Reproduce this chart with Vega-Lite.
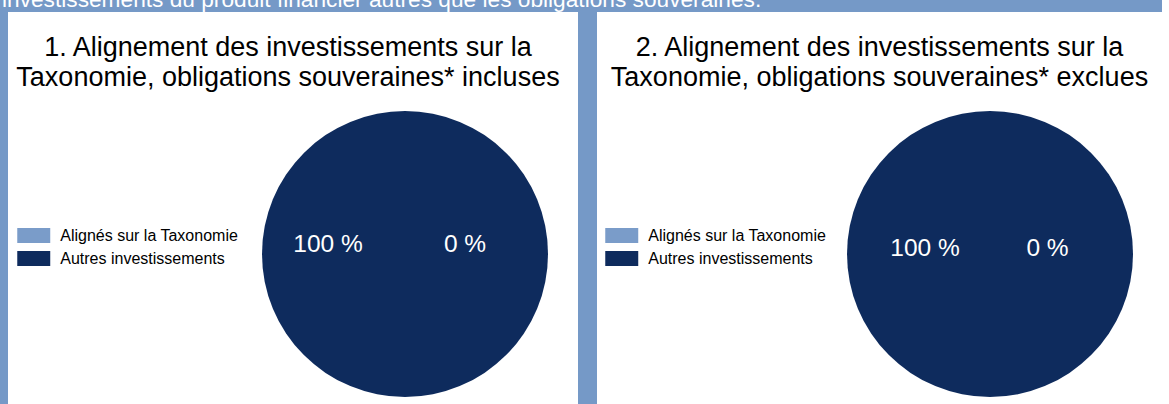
{
  "$schema": "https://vega.github.io/schema/vega-lite/v6.json",
  "background": "#7599C7",
  "padding": {"left": 2, "top": -11, "right": 0, "bottom": 0},
  "title": {
    "text": "investissements du produit financier autres que les obligations souveraines.",
    "anchor": "start",
    "color": "white",
    "fontSize": 22.7,
    "font": "Liberation Sans",
    "fontWeight": "normal",
    "offset": 0,
    "dx": -6
  },
  "data": {
    "values": [
      {"graphique": 1, "categorie": "Alignés sur la Taxonomie", "valeur": 0},
      {"graphique": 1, "categorie": "Autres investissements", "valeur": 1},
      {"graphique": 2, "categorie": "Alignés sur la Taxonomie", "valeur": 0},
      {"graphique": 2, "categorie": "Autres investissements", "valeur": 1}
    ]
  },
  "spacing": 19,
  "hconcat": [
    {
      "width": 570,
      "height": 400,
      "title": {
        "text": ["1. Alignement des investissements sur la", "Taxonomie, obligations souveraines* incluses"],
        "fontSize": 27,
        "fontWeight": "normal",
        "font": "Liberation Sans",
        "color": "black",
        "anchor": "middle",
        "lineHeight": 30,
        "offset": -80,
        "dx": -5
      },
      "transform": [{"filter": "datum.graphique == 1"}],
      "layer": [
        {
          "mark": {"type": "arc", "outerRadius": 143},
          "encoding": {
            "x": {"datum": 0.6965, "type": "quantitative", "scale": {"domain": [0, 1], "nice": false, "zero": false}, "axis": null},
            "y": {"datum": 0.395, "type": "quantitative", "scale": {"domain": [0, 1], "nice": false, "zero": false}, "axis": null},
            "theta": {"field": "valeur", "type": "quantitative", "stack": true},
            "order": {"field": "categorie", "sort": "descending"},
            "color": {
              "field": "categorie",
              "type": "nominal",
              "scale": {"domain": ["Alignés sur la Taxonomie", "Autres investissements"], "range": ["#7A9CC9", "#0E2B5D"]},
              "legend": {"orient": "none", "legendX": 17.25, "legendY": 215}
            }
          }
        },
        {
          "mark": {"type": "text", "fontSize": 24.5, "font": "Liberation Sans", "color": "white"},
          "encoding": {
            "x": {"field": "categorie", "type": "nominal", "scale": {"type": "point", "padding": 0, "domain": ["Autres investissements", "Alignés sur la Taxonomie"], "range": [320, 457]}, "axis": null},
            "y": {"datum": 0.4175, "type": "quantitative", "axis": null},
            "text": {"field": "valeur", "type": "quantitative", "format": ".0%"}
          }
        }
      ],
      "resolve": {"scale": {"x": "independent"}}
    },
    {
      "width": 565,
      "height": 400,
      "title": {
        "text": ["2. Alignement des investissements sur la", "Taxonomie, obligations souveraines* exclues"],
        "fontSize": 27,
        "fontWeight": "normal",
        "font": "Liberation Sans",
        "color": "black",
        "anchor": "middle",
        "lineHeight": 30,
        "offset": -80
      },
      "transform": [{"filter": "datum.graphique == 2"}],
      "layer": [
        {
          "mark": {"type": "arc", "outerRadius": 143},
          "encoding": {
            "x": {"datum": 0.6956, "type": "quantitative", "scale": {"domain": [0, 1], "nice": false, "zero": false}, "axis": null},
            "y": {"datum": 0.395, "type": "quantitative", "scale": {"domain": [0, 1], "nice": false, "zero": false}, "axis": null},
            "theta": {"field": "valeur", "type": "quantitative", "stack": true},
            "order": {"field": "categorie", "sort": "descending"},
            "color": {
              "field": "categorie",
              "type": "nominal",
              "scale": {"domain": ["Alignés sur la Taxonomie", "Autres investissements"], "range": ["#7A9CC9", "#0E2B5D"]},
              "legend": {"orient": "none", "legendX": 16.25, "legendY": 215}
            }
          }
        },
        {
          "mark": {"type": "text", "fontSize": 24.5, "font": "Liberation Sans", "color": "white"},
          "encoding": {
            "x": {"field": "categorie", "type": "nominal", "scale": {"type": "point", "padding": 0, "domain": ["Autres investissements", "Alignés sur la Taxonomie"], "range": [328, 450.5]}, "axis": null},
            "y": {"datum": 0.40875, "type": "quantitative", "axis": null},
            "text": {"field": "valeur", "type": "quantitative", "format": ".0%"}
          }
        }
      ],
      "resolve": {"scale": {"x": "independent"}}
    }
  ],
  "resolve": {"legend": {"color": "independent"}},
  "config": {
    "view": {"fill": "white", "stroke": null},
    "locale": {
      "number": {"decimal": ",", "thousands": " ", "grouping": [3], "currency": ["", " €"], "percent": " %"}
    },
    "legend": {
      "title": null,
      "symbolType": "M-2,-0.9H2V0.9H-2Z",
      "symbolSize": 272,
      "symbolStrokeWidth": 0,
      "symbolOpacity": 1,
      "labelFontSize": 16,
      "labelFont": "Liberation Sans",
      "labelColor": "black",
      "labelOffset": 18,
      "labelLimit": 400,
      "rowPadding": 6,
      "padding": 0
    }
  }
}
